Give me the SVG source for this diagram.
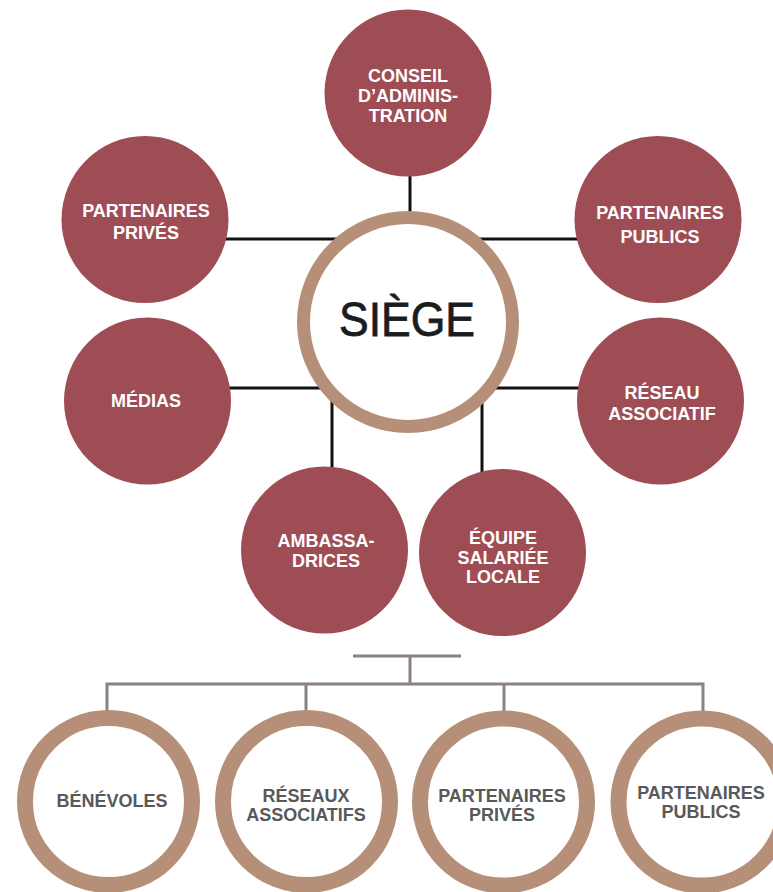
<svg xmlns="http://www.w3.org/2000/svg" width="773" height="892" viewBox="0 0 773 892">
<style>
.red{fill:#9f4d55}
.ring{fill:#fff;stroke:#b68f79}
.wt{font-family:"Liberation Sans",Arial,sans-serif;font-weight:bold;font-size:18px;fill:#fff;text-anchor:middle}
.gt{font-family:"Liberation Sans",Arial,sans-serif;font-weight:bold;font-size:18px;fill:#58595b;text-anchor:middle}
.blk{stroke:#111;stroke-width:3;fill:none}
.gry{stroke:#8b8082;stroke-width:3;fill:none}
</style>
<rect width="773" height="892" fill="#fff"/>
<g id="connectors">
<line class="blk" x1="410" y1="170" x2="410" y2="215"/>
<line class="blk" x1="222" y1="239" x2="580" y2="239"/>
<line class="blk" x1="225" y1="388" x2="582" y2="388"/>
<line class="blk" x1="332" y1="388" x2="332" y2="472"/>
<line class="blk" x1="482" y1="388" x2="482" y2="474"/>
<line class="gry" x1="353" y1="656" x2="461" y2="656"/>
<line class="gry" x1="410" y1="656" x2="410" y2="684"/>
<polyline class="gry" points="107,712 107,684 703,684 703,712"/>
<line class="gry" x1="306" y1="684" x2="306" y2="712"/>
<line class="gry" x1="504" y1="684" x2="504" y2="712"/>
</g>
<g id="siege">
<circle class="ring" cx="408" cy="322" r="104.5" stroke-width="13"/>
<text x="407" y="336" font-family="'Liberation Sans',Arial,sans-serif" font-size="49" fill="#1a1d1f" stroke="#1a1d1f" stroke-width="0.8" text-anchor="middle" textLength="136" lengthAdjust="spacingAndGlyphs">SIÈGE</text>
</g>
<g id="conseil">
<circle class="red" cx="408" cy="93" r="83.5"/>
<text class="wt" x="408" y="82">CONSEIL</text>
<text class="wt" x="408" y="102">D’ADMINIS-</text>
<text class="wt" x="408" y="122">TRATION</text>
</g>
<g id="partenaires-prives">
<circle class="red" cx="145" cy="219.5" r="83.5"/>
<text class="wt" x="146" y="217">PARTENAIRES</text>
<text class="wt" x="146" y="239">PRIVÉS</text>
</g>
<g id="partenaires-publics">
<circle class="red" cx="658" cy="219.5" r="83.5"/>
<text class="wt" x="660" y="219">PARTENAIRES</text>
<text class="wt" x="660" y="243">PUBLICS</text>
</g>
<g id="medias">
<circle class="red" cx="147.5" cy="401" r="83.5"/>
<text class="wt" x="146" y="407">MÉDIAS</text>
</g>
<g id="reseau-associatif">
<circle class="red" cx="660.5" cy="401" r="83.5"/>
<text class="wt" x="662" y="399">RÉSEAU</text>
<text class="wt" x="662" y="420">ASSOCIATIF</text>
</g>
<g id="ambassadrices">
<circle class="red" cx="324.5" cy="550" r="83.5"/>
<text class="wt" x="326" y="547">AMBASSA-</text>
<text class="wt" x="326" y="567">DRICES</text>
</g>
<g id="equipe">
<circle class="red" cx="502.5" cy="552.5" r="83.5"/>
<text class="wt" x="503" y="544">ÉQUIPE</text>
<text class="wt" x="503" y="564">SALARIÉE</text>
<text class="wt" x="503" y="583">LOCALE</text>
</g>
<g id="benevoles">
<circle class="ring" cx="108.5" cy="801.5" r="83.5" stroke-width="16"/>
<text class="gt" x="112" y="807">BÉNÉVOLES</text>
</g>
<g id="reseaux-associatifs">
<circle class="ring" cx="306.5" cy="801.5" r="83.5" stroke-width="16"/>
<text class="gt" x="306" y="802">RÉSEAUX</text>
<text class="gt" x="306" y="821">ASSOCIATIFS</text>
</g>
<g id="partenaires-prives-2">
<circle class="ring" cx="503.5" cy="802" r="83.5" stroke-width="16"/>
<text class="gt" x="502" y="802">PARTENAIRES</text>
<text class="gt" x="502" y="821">PRIVÉS</text>
</g>
<g id="partenaires-publics-2">
<circle class="ring" cx="702" cy="802" r="83.5" stroke-width="16"/>
<text class="gt" x="701" y="799">PARTENAIRES</text>
<text class="gt" x="701" y="818">PUBLICS</text>
</g>
</svg>
